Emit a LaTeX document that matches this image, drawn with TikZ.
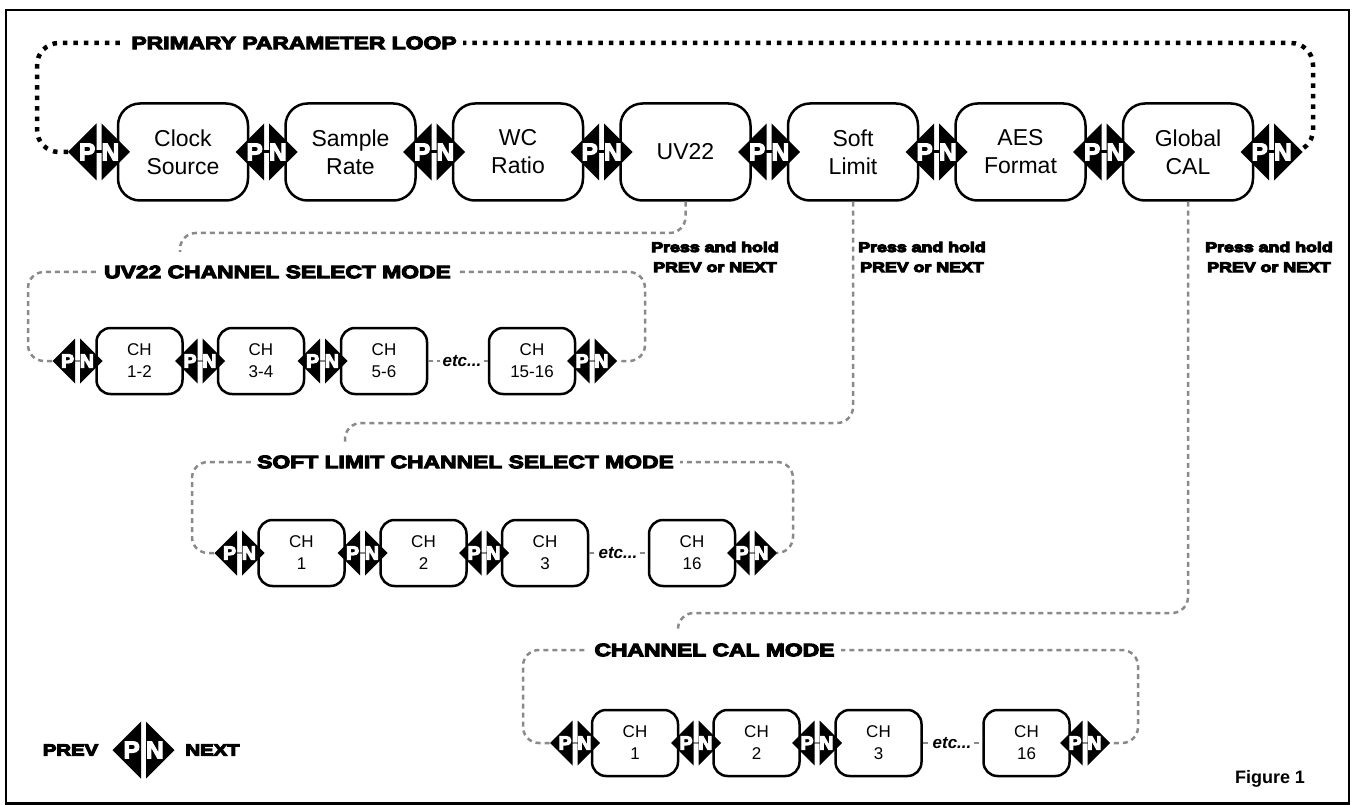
\documentclass[tikz,border=0pt]{standalone}
\usepackage{fontspec}
\setmainfont{Liberation Sans}
\newfontfamily\heavyfont{Liberation Sans Bold}[FakeStretch=1.27]
\newfontfamily\pnfont{Liberation Sans Bold}
\usetikzlibrary{calc}
\definecolor{loopgray}{RGB}{138,138,138}
\newcommand\heavy[1]{\special{pdf:literal direct 2 Tr 1.1 w}#1\special{pdf:literal direct 0 Tr}}
\tikzset{
    mainbox/.style={draw,line width=2.5pt,rounded corners=22pt,fill=white,minimum width=130pt,minimum height=97pt,align=center,inner sep=0pt,font=\fontsize{23}{28}\selectfont},
    chbox/.style={draw,line width=2.5pt,rounded corners=14pt,fill=white,minimum width=86pt,minimum height=66pt,align=center,inner sep=0pt,font=\fontsize{17}{22}\selectfont},
    primaryloop/.style={line width=4.5pt,dash pattern=on 4.5pt off 6pt,rounded corners=22pt},
    subloop/.style={loopgray,line width=2.5pt,dash pattern=on 5pt off 4pt,rounded corners=16pt},
    looptitle/.style={fill=white,inner sep=6pt,font=\heavyfont\fontsize{18}{22}\selectfont},
    holdnote/.style={align=center,inner sep=0pt,font=\heavyfont\fontsize{14}{20}\selectfont},
    etcnode/.style={inner sep=2pt,font=\bfseries\itshape\fontsize{17}{20}\selectfont},
    pnletter/.style={white,inner sep=0pt}
}
\newcommand\drawpn[4]{%
    \pgfmathsetmacro\pnfs{0.86*#4}%
    \coordinate (#1) at (#2,#3);
    \coordinate (#1-w) at (#2-#4-2.5,#3);
    \coordinate (#1-e) at (#2+#4+2.5,#3);
    \fill (#2-2.5,#3-#4) -- (#2-2.5,#3+#4) -- (#2-#4-2.5,#3) -- cycle;
    \fill (#2+2.5,#3-#4) -- (#2+2.5,#3+#4) -- (#2+#4+2.5,#3) -- cycle;
    \node[pnletter,font=\pnfont\fontsize{\pnfs}{\pnfs}\selectfont] at (#2-2.5-0.33*#4,#3) {\heavy{P}};
    \node[pnletter,font=\pnfont\fontsize{\pnfs}{\pnfs}\selectfont] at (#2+2.5+0.31*#4,#3) {\heavy{N}}
}

\begin{document}
\begin{tikzpicture}[x=1pt,y=-1pt]
    \useasboundingbox (0,0) rectangle (1353,805);
    \draw[line width=2.5pt] (6,10) rectangle (1349,803.5);

    \draw[primaryloop] (99-31,152) -- (37,152) -- (37,43) -- (1313,43) -- (1313,152) -- (1271.5+31,152);
    \node[looptitle] (ptitle) at (294,43) {\heavy{PRIMARY PARAMETER LOOP}};
    \foreach \name/\txt [count=\i from 0] in {clk/{Clock\\Source},rate/{Sample\\Rate},wc/{WC\\Ratio},uv/{UV22},soft/{Soft\\Limit},aes/{AES\\Format},cal/{Global\\CAL}}
        \node[mainbox] (\name) at (183+167.5*\i,152) {\txt};
    \foreach \i in {0,...,7}
        \draw[line width=3pt] (99+167.5*\i-8,152) -- (99+167.5*\i+8,152);
    \foreach \i in {0,...,7}
        \drawpn{pp\i}{99+167.5*\i}{152}{28.5};

    \draw[subloop] (uv.south) |- (180,233) -- (180,252) coordinate (uvend);
    \draw[subloop] (soft.south) |- (345,423) -- (345,443) coordinate (softend);
    \draw[subloop] (cal.south) |- (678,613) -- (678,632) coordinate (calend);
    \node[holdnote] (holda) at (715,257) {\heavy{Press and hold}\\\heavy{PREV or NEXT}};
    \node[holdnote] (holdb) at (922,257) {\heavy{Press and hold}\\\heavy{PREV or NEXT}};
    \node[holdnote] (holdc) at (1269,257) {\heavy{Press and hold}\\\heavy{PREV or NEXT}};

    \draw[subloop] (77.5-25.5,361) -- (28,361) -- (28,272) -- (645,272) -- (645,361) -- (592+25.5,361);
    \node[looptitle] (uvtitle) at (277.5,272) {\heavy{UV22 CHANNEL SELECT MODE}};
    \node[chbox] (ua1) at (139.5,361) {CH\\1-2};
    \node[chbox] (ua2) at (261,361) {CH\\3-4};
    \node[chbox] (ua3) at (384,361) {CH\\5-6};
    \node[chbox] (ua4) at (532,361) {CH\\15-16};
    \node[etcnode] (etca) at (462,361) {etc...};
    \draw[subloop] (ua3.east) -- (etca.west);
    \draw[subloop] (etca.east) -- (ua4.west);
    \foreach \n/\x in {0/77.5,1/200,2/322.5,3/592}{
        \draw[loopgray,line width=2.5pt] (\x-7,361) -- (\x+7,361);
        \drawpn{sa\n}{\x}{361}{22.5};
    }

    \draw[subloop] (239.5-25.5,553) -- (192,553) -- (192,462) -- (793,462) -- (793,553) -- (752+25.5,553);
    \node[looptitle] (softtitle) at (465.5,462) {\heavy{SOFT LIMIT CHANNEL SELECT MODE}};
    \node[chbox] (ub1) at (301.5,553) {CH\\1};
    \node[chbox] (ub2) at (423.5,553) {CH\\2};
    \node[chbox] (ub3) at (545,553) {CH\\3};
    \node[chbox] (ub4) at (692,553) {CH\\16};
    \node[etcnode] (etcb) at (618,553) {etc...};
    \draw[subloop] (ub3.east) -- (etcb.west);
    \draw[subloop] (etcb.east) -- (ub4.west);
    \foreach \n/\x in {0/239.5,1/362.5,2/484,3/752}{
        \draw[loopgray,line width=2.5pt] (\x-7,553) -- (\x+7,553);
        \drawpn{sb\n}{\x}{553}{22.5};
    }

    \draw[subloop] (575-25.5,743) -- (523,743) -- (523,650) -- (1138,650) -- (1138,743) -- (1085+25.5,743);
    \node[looptitle] (caltitle) at (714.5,650) {\heavy{CHANNEL CAL MODE}};
    \node[chbox] (uc1) at (635,743) {CH\\1};
    \node[chbox] (uc2) at (756.5,743) {CH\\2};
    \node[chbox] (uc3) at (878.5,743) {CH\\3};
    \node[chbox] (uc4) at (1026.5,743) {CH\\16};
    \node[etcnode] (etcc) at (952,743) {etc...};
    \draw[subloop] (uc3.east) -- (etcc.west);
    \draw[subloop] (etcc.east) -- (uc4.west);
    \foreach \n/\x in {0/575,1/696,2/817,3/1085}{
        \draw[loopgray,line width=2.5pt] (\x-7,743) -- (\x+7,743);
        \drawpn{sc\n}{\x}{743}{22.5};
    }

    \node[holdnote,font=\heavyfont\fontsize{16}{20}\selectfont] (prevtxt) at (70.5,750) {\heavy{PREV}};
    \drawpn{legpn}{143.5}{750}{28.5};
    \node[holdnote,font=\heavyfont\fontsize{16}{20}\selectfont] (nexttxt) at (212.5,750) {\heavy{NEXT}};
    \node[font=\bfseries\fontsize{18}{21}\selectfont] (figlabel) at (1270,779) {Figure 1};
\end{tikzpicture}
\end{document}
